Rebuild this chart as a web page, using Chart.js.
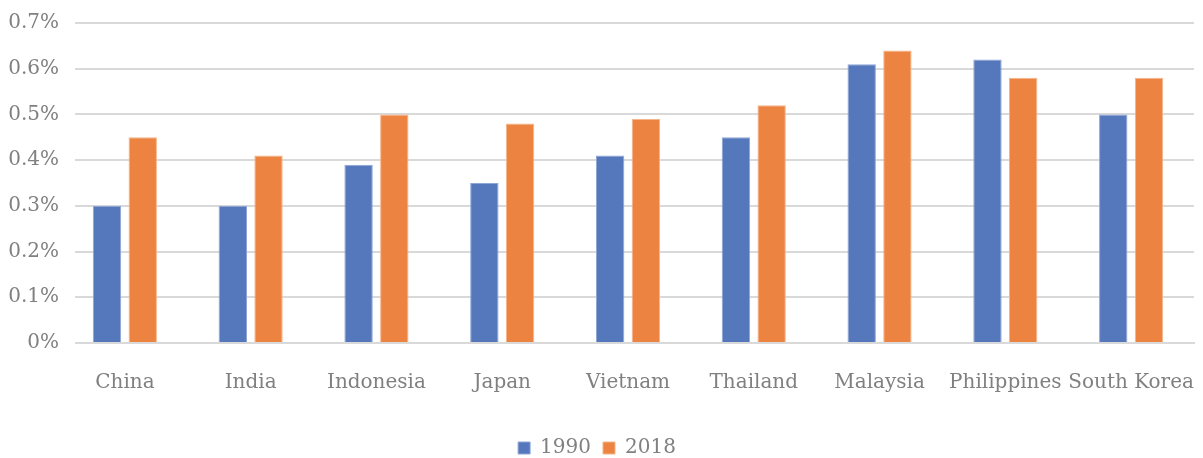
<!DOCTYPE html>
<html>
<head>
<meta charset="utf-8">
<script src="https://cdn.jsdelivr.net/npm/chart.js@4"></script>
<style>
  html, body { margin: 0; padding: 0; background: #ffffff; }
  #wrap { width: 1203px; height: 458px; }
</style>
</head>
<body>
<div id="wrap"><canvas id="chart" width="1203" height="458"></canvas></div>
<script>
// Countries on the category axis
const countries = ['China', 'India', 'Indonesia', 'Japan', 'Vietnam', 'Thailand', 'Malaysia', 'Philippines', 'South Korea'];
// Share values, in percent
const values1990 = [0.30, 0.30, 0.39, 0.35, 0.41, 0.45, 0.61, 0.62, 0.50];
const values2018 = [0.45, 0.41, 0.50, 0.48, 0.49, 0.52, 0.64, 0.58, 0.58];
// Value axis ticks
const yTicks = [0, 0.1, 0.2, 0.3, 0.4, 0.5, 0.6, 0.7];

const textColor = '#808080';
const gridColor = '#d9d9d9';
const fontFamily = '"DejaVu Serif", "Liberation Serif", serif';

// Horizontal rules start a little to the right of the plot's left edge
const gridInset = {
  id: 'gridInset',
  beforeDatasetsDraw(chart) {
    const { ctx, chartArea } = chart;
    ctx.save();
    ctx.fillStyle = '#ffffff';
    ctx.fillRect(chartArea.left - 1, chartArea.top - 3, 14, chartArea.bottom - chartArea.top + 6);
    ctx.restore();
  }
};

new Chart(document.getElementById('chart'), {
  type: 'bar',
  data: {
    labels: countries,
    datasets: [
      {
        label: '1990',
        data: values1990,
        backgroundColor: '#5577bb',
        borderColor: '#8ea6d6',
        borderWidth: 1,
        categoryPercentage: 0.568,
        barPercentage: 0.795
      },
      {
        label: '2018',
        data: values2018,
        backgroundColor: '#ed8340',
        borderColor: '#f5b48a',
        borderWidth: 1,
        categoryPercentage: 0.568,
        barPercentage: 0.795
      }
    ]
  },
  plugins: [gridInset],
  options: {
    responsive: false,
    animation: false,
    devicePixelRatio: 1,
    layout: { padding: { top: 23, right: 9, left: 0, bottom: -10 } },
    plugins: {
      tooltip: { enabled: false },
      legend: {
        position: 'bottom',
        labels: {
          color: textColor,
          font: { family: fontFamily, size: 20 },
          boxWidth: 12,
          boxHeight: 12,
          padding: 12,
          useBorderRadius: false
        }
      }
    },
    scales: {
      x: {
        grid: { display: false, drawTicks: false },
        border: { display: true, color: gridColor, width: 2 },
        ticks: {
          color: textColor,
          font: { family: fontFamily, size: 20 },
          padding: 28,
          maxRotation: 0,
          autoSkip: false
        },
        afterFit(scale) {
          scale.height = 83;
          scale.paddingLeft = 0;
          scale.paddingRight = 0;
        }
      },
      y: {
        min: 0,
        max: 0.7,
        afterBuildTicks(scale) { scale.ticks = yTicks.map(v => ({ value: v })); },
        grid: { color: gridColor, lineWidth: 2, drawTicks: false },
        border: { display: false },
        ticks: {
          color: textColor,
          font: { family: fontFamily, size: 20 },
          padding: 3,
          callback: v => (v === 0 ? '0%' : v.toFixed(1) + '%')
        },
        afterFit(scale) {
          scale.width = 62;
          scale.paddingTop = 0;
          scale.paddingBottom = 0;
        }
      }
    }
  }
});
</script>
</body>
</html>
